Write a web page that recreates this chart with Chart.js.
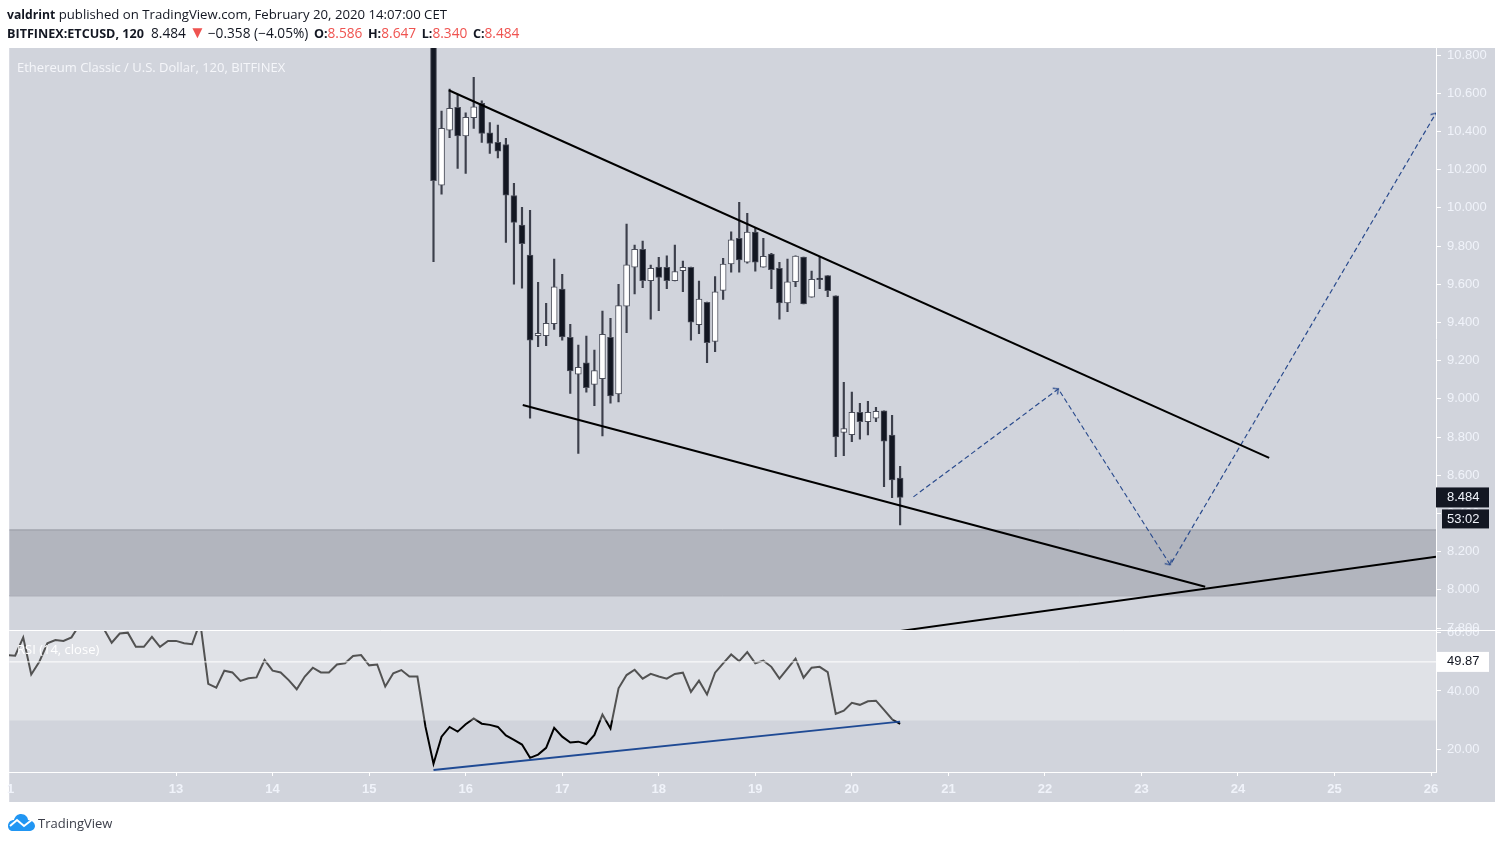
<!DOCTYPE html>
<html>
<head>
<meta charset="utf-8">
<title>ETCUSD</title>
<script src="https://cdn.jsdelivr.net/npm/chart.js@4/dist/chart.umd.js"></script>
<style>
    html, body { margin: 0; padding: 0; background: #fff; }
    body { position: relative; width: 1503px; height: 843px; overflow: hidden; font-family: "Open Sans", sans-serif; }
    #chart { position: absolute; left: 0; top: 0; }
    .txt { position: absolute; white-space: nowrap; }
    .head { left: 7px; font-size: 13.2px; color: #131722; }
    .head b { font-size: 12.2px; }
    .second { font-size: 13.7px; }
    .second b { font-size: 12.6px; }
    .second .lab { margin-left: 2px; }
    .red { color: #ef5350; }
    .tri { font-size: 17px; line-height: 0; margin: 0 2px 0 3px; }
    .onpane { color: #f5f6fa; font-size: 13px; }
</style>
</head>
<body>
<canvas id="chart" width="1503" height="843"></canvas>
<div class="txt head" style="top:5px"><b>valdrint</b> published on TradingView.com, February 20, 2020 14:07:00 CET</div>
<div class="txt head second" style="top:23px"><b>BITFINEX:ETCUSD, 120</b>&nbsp; 8.484<span class="red tri">▼</span>−0.358 (−4.05%) <b class="lab">O:</b><span class="red">8.586</span> <b class="lab">H:</b><span class="red">8.647</span> <b class="lab">L:</b><span class="red">8.340</span> <b class="lab">C:</b><span class="red">8.484</span></div>
<div class="txt onpane" style="left:17px;top:58px">Ethereum Classic / U.S. Dollar, 120, BITFINEX</div>
<div class="txt onpane" style="left:17px;top:640px;color:#fff">RSI (14, close)</div>
<div class="txt onpane" style="left:7px;top:781px;font:bold 13px 'Liberation Sans';color:#f0f3fa">1</div>
<svg class="txt" style="left:7px;top:813px" width="29" height="19" viewBox="0 0 29 19">
    <path d="M1 13 C1 9 4 7 7 7 C8 3 11 1 14 1 C18 1 21 4 21 7 C25 7 28 10 28 13 C28 16 25 18 22 18 L6 18 C3 18 1 16 1 13 Z" fill="#2196f3"/>
    <path d="M3 13 L10 7 L17 13 L26 6" fill="none" stroke="#fff" stroke-width="2"/>
</svg>
<div class="txt" style="left:38px;top:814px;font-size:13px;color:#3b3e49">TradingView</div>
<script>
// Candles, one every 2 hours
const firstCandleDay = 15.6667;
const candlesPerDay = 12;
const opens = [11.30, 10.119, 10.407, 10.526, 10.377, 10.472, 10.547, 10.393, 10.343, 10.332, 10.065, 9.910, 9.753, 9.331, 9.331, 9.394, 9.575, 9.322, 9.129, 9.189, 9.076, 9.106, 9.322, 9.026, 9.486, 9.689, 9.783, 9.619, 9.690, 9.689, 9.619, 9.671, 9.689, 9.388, 9.506, 9.301, 9.568, 9.706, 9.840, 9.716, 9.873, 9.689, 9.758, 9.683, 9.503, 9.613, 9.743, 9.532, 9.633, 9.645, 9.540, 8.825, 8.813, 8.930, 8.881, 8.899, 8.937, 8.810, 8.586];
const highs = [11.35, 10.507, 10.622, 10.590, 10.498, 10.683, 10.561, 10.447, 10.433, 10.364, 10.128, 10.003, 9.987, 9.610, 9.500, 9.732, 9.652, 9.390, 9.282, 9.329, 9.256, 9.460, 9.422, 9.600, 9.915, 9.805, 9.826, 9.701, 9.741, 9.749, 9.805, 9.722, 9.690, 9.617, 9.507, 9.640, 9.736, 9.875, 10.029, 9.971, 9.893, 9.840, 9.762, 9.715, 9.732, 9.749, 9.743, 9.669, 9.744, 9.645, 9.540, 9.087, 9.035, 8.977, 8.987, 8.956, 8.937, 8.914, 8.647];
const lows = [9.718, 10.072, 10.367, 10.207, 10.181, 10.416, 10.343, 10.285, 10.262, 9.819, 9.601, 9.579, 8.899, 9.273, 9.278, 9.364, 9.308, 9.029, 8.715, 9.035, 8.964, 8.806, 8.977, 8.984, 9.346, 9.549, 9.582, 9.417, 9.462, 9.577, 9.617, 9.561, 9.308, 9.341, 9.189, 9.247, 9.521, 9.663, 9.663, 9.710, 9.669, 9.689, 9.577, 9.417, 9.456, 9.587, 9.497, 9.532, 9.577, 9.535, 8.698, 8.703, 8.776, 8.789, 8.811, 8.881, 8.541, 8.483, 8.340];
const closes = [10.142, 10.416, 10.521, 10.377, 10.474, 10.529, 10.390, 10.338, 10.297, 10.067, 9.924, 9.812, 9.308, 9.343, 9.396, 9.586, 9.324, 9.146, 9.165, 9.059, 9.148, 9.338, 9.015, 9.488, 9.702, 9.783, 9.619, 9.683, 9.636, 9.619, 9.666, 9.689, 9.401, 9.523, 9.294, 9.561, 9.706, 9.833, 9.728, 9.873, 9.716, 9.746, 9.676, 9.503, 9.613, 9.748, 9.497, 9.626, 9.624, 9.566, 8.801, 8.844, 8.930, 8.881, 8.930, 8.935, 8.778, 8.576, 8.484];

// RSI, one value per candle, starting 53 bars before the first candle
const rsiBarsBefore = 53;
const rsiValues = [52.2, 52.0, 58.2, 45.6, 49.9, 56.2, 57.3, 57.0, 58.2, 62.5, 63.5, 62.0, 61.2, 56.4, 59.5, 59.8, 55.0, 55.0, 58.4, 55.0, 57.0, 57.0, 56.2, 55.9, 63.5, 42.4, 41.1, 46.9, 46.3, 43.4, 44.3, 44.6, 50.5, 46.9, 46.3, 43.7, 40.6, 44.9, 47.9, 46.3, 46.3, 49.0, 49.4, 51.9, 52.2, 48.7, 49.0, 41.5, 46.0, 47.1, 44.9, 44.9, 27.9, 15.3, 24.5, 27.8, 26.2, 28.7, 30.7, 28.9, 28.5, 27.8, 24.9, 23.4, 21.8, 17.3, 18.4, 20.7, 27.5, 24.5, 22.5, 22.8, 22.0, 25.1, 32.0, 27.3, 40.9, 45.4, 47.2, 44.2, 45.8, 44.9, 44.2, 45.8, 46.2, 39.7, 43.5, 38.8, 46.2, 49.4, 52.4, 50.1, 53.2, 49.4, 50.3, 48.2, 44.2, 47.6, 51.0, 44.5, 47.9, 48.2, 46.4, 32.2, 33.3, 36.0, 35.3, 36.5, 36.7, 33.6, 30.4, 28.8];

// Drawings, each as [day, price]
const upperWedge = [[15.825, 10.616], [24.323, 8.691]];
const lowerWedge = [[16.591, 8.968], [23.660, 8.016]];
const supportLine = [[20.504, 7.785], [26.051, 8.173]];
const projection = [[20.638, 8.487], [22.139, 9.052], [23.298, 8.131], [26.051, 10.496]];
const arrowAngles = [0, 53, 147.5, 30.5];
const rsiTrend = [[15.6667, 13.2], [20.5, 29.6]];

// Zones and levels
const zoneTop = 8.314;
const zoneBottom = 7.969;
const rsiBandTop = 70;
const rsiBandBottom = 30;
const lastPrice = 8.484;
const lastRsi = 49.87;
const countdown = '53:02';

// Axes
const dayMin = 11.2716;
const dayMax = 26.051;
const dayTicks = [13, 14, 15, 16, 17, 18, 19, 20, 21, 22, 23, 24, 25, 26];
const priceTicks = [7.8, 8.0, 8.2, 8.4, 8.6, 8.8, 9.0, 9.2, 9.4, 9.6, 9.8, 10.0, 10.2, 10.4, 10.6, 10.8];
const rsiTicks = [20, 40, 60];

const PANE_BG = '#d1d4dc';
const LABEL_COLOR = '#f0f3fa';
const DARK = '#131722';
const AXIS_FONT = { family: 'Liberation Sans', size: 13 };
const ARROW_BLUE = '#2a4b8d';

function toPoints(pairs) {
    return pairs.map(p => ({ x: p[0], y: p[1] }));
}

const candleDays = closes.map((c, i) => firstCandleDay + i / candlesPerDay);
const rsiPoints = rsiValues.map((v, i) => ({ x: firstCandleDay + (i - rsiBarsBefore) / candlesPerDay, y: v }));
const isUp = closes.map((c, i) => c >= opens[i]);

function flatLine(y) {
    return [{ x: dayMin, y: y }, { x: dayMax, y: y }];
}

function drawingLine(pairs, yAxisID, color, width, dash) {
    return {
        type: 'line', data: toPoints(pairs), yAxisID: yAxisID, order: 1,
        borderColor: color, borderWidth: width, borderDash: dash || [],
        pointRadius: 0, tension: 0, fill: false
    };
}

// small open arrow head used as a point style on the projection
function makeArrowHead() {
    const cv = document.createElement('canvas');
    cv.width = 16;
    cv.height = 16;
    const g = cv.getContext('2d');
    g.strokeStyle = ARROW_BLUE;
    g.lineWidth = 1.2;
    g.beginPath();
    g.moveTo(4, 12);
    g.lineTo(8, 8);
    g.lineTo(12, 12);
    g.stroke();
    return cv;
}

// pane background, separators and the last value tags
const panePlugin = {
    id: 'panes',
    beforeDraw(chart) {
        const c = chart.ctx;
        const area = chart.chartArea;
        const xAxis = chart.scales.x;
        const price = chart.scales.yPrice;
        c.save();
        c.fillStyle = PANE_BG;
        c.fillRect(area.left, area.top, price.right - area.left, xAxis.bottom - area.top);
        c.restore();
    },
    afterDraw(chart) {
        const c = chart.ctx;
        const price = chart.scales.yPrice;
        const rsi = chart.scales.yRsi;
        c.save();
        c.strokeStyle = '#ffffff';
        c.lineWidth = 1;
        c.beginPath();
        c.moveTo(chart.chartArea.left, rsi.top + 0.5);
        c.lineTo(rsi.right, rsi.top + 0.5);
        c.stroke();

        c.textBaseline = 'middle';
        c.font = '13px "Liberation Sans"';

        const py = price.getPixelForValue(lastPrice);
        c.fillStyle = DARK;
        c.fillRect(price.left, py - 10, 53, 20);
        c.fillRect(price.left + 6, py + 12, 47, 19);
        c.fillStyle = LABEL_COLOR;
        c.fillText(lastPrice.toFixed(3), price.left + 11, py);
        c.fillText(countdown, price.left + 11, py + 21.5);

        const ry = rsi.getPixelForValue(lastRsi);
        c.fillStyle = '#ffffff';
        c.fillRect(rsi.left + 1, ry - 10, 52, 20);
        c.fillStyle = DARK;
        c.fillText(lastRsi.toFixed(2), rsi.left + 11, ry);
        c.restore();
    }
};

function sideAxis(min, max, tickValues, digits, weight) {
    return {
        position: 'right', stack: 'side', stackWeight: weight, min: min, max: max,
        afterBuildTicks(scale) { scale.ticks = tickValues.map(v => ({ value: v })); },
        afterFit(scale) { scale.width = 59; },
        grid: { drawOnChartArea: false, drawTicks: true, color: '#ffffff', tickLength: 5 },
        border: { color: '#ffffff' },
        ticks: {
            color: LABEL_COLOR, font: AXIS_FONT, padding: 6, autoSkip: false,
            callback: v => v.toFixed(digits)
        }
    };
}

new Chart(document.getElementById('chart'), {
    data: {
        datasets: [
            // zone
            { type: 'line', data: flatLine(zoneTop), yAxisID: 'yPrice', order: 9, borderColor: '#9598a1', borderWidth: 1, pointRadius: 0, fill: { value: zoneBottom }, backgroundColor: '#b2b5be' },
            { type: 'line', data: flatLine(zoneBottom), yAxisID: 'yPrice', order: 9, borderColor: '#9598a1', borderWidth: 1, pointRadius: 0, fill: false },
            // candles: wicks then bodies
            {
                type: 'bar', data: candleDays.map((d, i) => ({ x: d, y: [lows[i], highs[i]] })), yAxisID: 'yPrice', order: 5,
                backgroundColor: '#3c3f4b', barThickness: 1.5, grouped: false
            },
            {
                type: 'bar', data: candleDays.map((d, i) => ({ x: d, y: [opens[i], closes[i]] })), yAxisID: 'yPrice', order: 4,
                backgroundColor: isUp.map(u => u ? '#ffffff' : DARK),
                borderColor: '#4c4f5b', borderWidth: 1, borderSkipped: false, barThickness: 6, grouped: false
            },
            drawingLine(upperWedge, 'yPrice', '#000000', 2),
            drawingLine(lowerWedge, 'yPrice', '#000000', 2),
            drawingLine(supportLine, 'yPrice', '#000000', 2),
            Object.assign(drawingLine(projection, 'yPrice', ARROW_BLUE, 1.2, [5, 3]), {
                pointRadius: arrowAngles.map(a => a ? 8 : 0),
                pointStyle: makeArrowHead(),
                pointRotation: arrowAngles
            }),
            // rsi line sits under the translucent band, that is what makes it grey
            { type: 'line', data: rsiPoints, yAxisID: 'yRsi', order: 8, borderColor: '#000000', borderWidth: 2, pointRadius: 0, tension: 0, fill: false },
            { type: 'line', data: flatLine(rsiBandTop), yAxisID: 'yRsi', order: 3, borderWidth: 0, pointRadius: 0, fill: { value: rsiBandBottom }, backgroundColor: 'rgba(255,255,255,0.32)' },
            { type: 'line', data: flatLine(lastRsi), yAxisID: 'yRsi', order: 2, borderColor: '#ffffff', borderWidth: 1, pointRadius: 0, fill: false },
            drawingLine(rsiTrend, 'yRsi', '#1f4a94', 2)
        ]
    },
    options: {
        responsive: false,
        animation: false,
        layout: { padding: { left: 7, top: 48, right: 8, bottom: 41 } },
        plugins: { legend: { display: false }, title: { display: false }, tooltip: { enabled: false } },
        scales: {
            x: {
                type: 'linear', min: dayMin, max: dayMax, offset: false,
                afterBuildTicks(scale) { scale.ticks = dayTicks.map(v => ({ value: v })); },
                afterFit(scale) { scale.height = 30; },
                // the bar defaults shift grid lines by half a step, turn that off
                grid: { offset: false, drawOnChartArea: false, drawTicks: true, color: '#ffffff', tickLength: 4 },
                border: { color: '#ffffff' },
                ticks: {
                    color: LABEL_COLOR, font: { family: 'Liberation Sans', size: 13, weight: 'bold' }, padding: 6, autoSkip: false, maxRotation: 0,
                    callback: v => String(v)
                }
            },
            yPrice: sideAxis(7.79, 10.837, priceTicks, 3, 582),
            yRsi: sideAxis(12.5, 60.7, rsiTicks, 2, 142)
        }
    },
    plugins: [panePlugin]
});
</script>
</body>
</html>
